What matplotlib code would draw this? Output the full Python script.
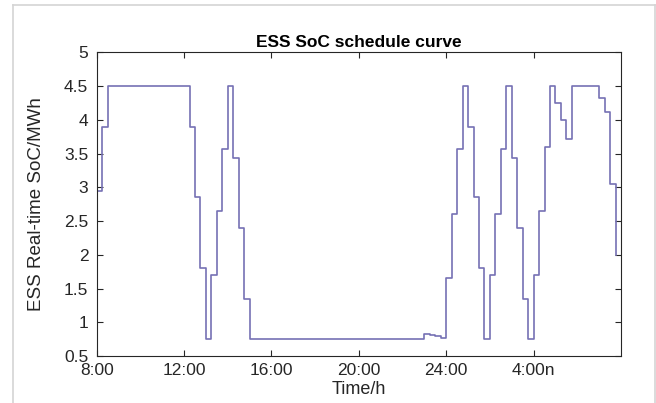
import numpy as np
import matplotlib
matplotlib.use("Agg")
import matplotlib.pyplot as plt
from matplotlib.lines import Line2D

plt.rcParams['font.family'] = ['Liberation Sans', 'DejaVu Sans']

# 15-minute schedule, 96 intervals starting 8:00
soc = [2.95, 3.90] + [4.50] * 15 + \
      [3.90, 2.86, 1.80, 0.75, 1.70, 2.65, 3.56, 4.50, 3.44, 2.39, 1.35] + \
      [0.75] * 32 + \
      [0.83, 0.81, 0.79, 0.76, 1.65, 2.61, 3.56, 4.50, 3.90, 2.86, 1.80, 0.75,
       1.70, 2.61, 3.56, 4.50, 3.44, 2.39, 1.35, 0.75, 1.70, 2.65, 3.60, 4.50,
       4.25, 4.00, 3.72] + \
      [4.50] * 5 + \
      [4.33, 4.11, 3.05, 2.00]
time_h = 8 + 0.25 * np.arange(len(soc))

xticks = [8, 12, 16, 20, 24, 28]
xticklabels = ['8:00', '12:00', '16:00', '20:00', '24:00', '4:00n']
yticks = [0.5, 1, 1.5, 2, 2.5, 3, 3.5, 4, 4.5, 5]
yticklabels = ['0.5', '1', '1.5', '2', '2.5', '3', '3.5', '4', '4.5', '5']

W, H = 656, 403
fig = plt.figure(figsize=(W / 100, H / 100), dpi=100)
fig.patch.set_facecolor('white')

x0, x1, ytop, ybot = 96.7, 621.0, 52.3, 356.0
ax = fig.add_axes([x0 / W, 1 - ybot / H, (x1 - x0) / W, (ybot - ytop) / H])

ax.step(time_h, soc, where='post', color='#7671b4', lw=1.2)

ax.set_xlim(8, 32)
ax.set_ylim(0.5, 5)
ax.set_xticks(xticks)
ax.set_xticklabels(xticklabels)
ax.set_yticks(yticks)
ax.set_yticklabels(yticklabels)

dark = '#262626'
for s in ax.spines.values():
    s.set_color(dark)
    s.set_linewidth(0.8)
ax.tick_params(direction='in', length=4, width=0.8, colors=dark,
               labelsize=12.5, top=True, right=True)
ax.tick_params(axis='y', pad=6)
ax.tick_params(axis='x', pad=5)

ax.set_title('ESS SoC schedule curve', fontsize=12.5, fontweight='bold', pad=4, color='black')
ax.set_xlabel('Time/h', fontsize=13, color=dark, labelpad=2)
ax.set_ylabel('ESS Real-time SoC/MWh', fontsize=13.5, color=dark, labelpad=14)

# faint frame around the figure (left, top, right)
fc = '#d4d4d4'
fig.add_artist(Line2D([13 / W, 13 / W], [0, 1 - 4.7 / H], color=fc, lw=1.2, transform=fig.transFigure))
fig.add_artist(Line2D([13 / W, 655 / W], [1 - 4.7 / H, 1 - 4.7 / H], color=fc, lw=1.2, transform=fig.transFigure))
fig.add_artist(Line2D([655 / W, 655 / W], [0, 1 - 4.7 / H], color=fc, lw=1.2, transform=fig.transFigure))

fig.savefig('out.png', dpi=100, facecolor='white')
